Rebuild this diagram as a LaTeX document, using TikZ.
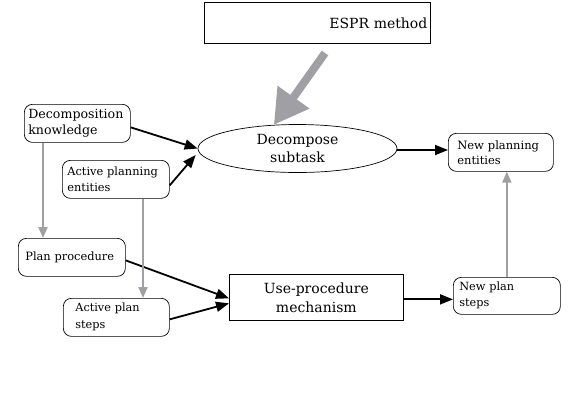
\documentclass[tikz,border=0pt]{standalone}
\usepackage{fontspec}
\setmainfont{DejaVu Serif}
\usetikzlibrary{arrows.meta,shapes.geometric}
\definecolor{arrgray}{RGB}{160,160,164}
\begin{document}
\begin{tikzpicture}[x=1pt,y=-1pt,
  rbox/.style={draw,rounded corners=8pt,line width=0.7pt,inner ysep=0pt,align=left,anchor=north west},
  sbox/.style={draw,line width=0.7pt,inner ysep=0pt,anchor=north west},
  blk/.style={line width=1.8pt,-{Triangle[length=13pt,width=10pt]}},
  gry/.style={draw=arrgray,line width=2pt,-{Triangle[length=11pt,width=9pt,fill=arrgray]}},
  big/.style={draw=arrgray,line width=8pt,-{Triangle[length=34pt,width=37pt,fill=arrgray]}}]
\useasboundingbox (0,0) rectangle (572,405);
\fill[white] (0,0) rectangle (572,405);

\node[sbox,minimum width=226pt,minimum height=41pt,text width=220pt,inner xsep=3pt,align=right,font=\fontsize{14}{18}\selectfont] (espr) at (204,2) {ESPR method};
\node[draw,ellipse,line width=0.7pt,minimum width=199pt,minimum height=48pt,inner sep=0pt,align=center,font=\fontsize{14}{18}\selectfont] (dec) at (297.5,148.5) {Decompose\\subtask};
\node[rbox,minimum width=106pt,minimum height=38pt,inner xsep=4pt,text width=98pt,font=\fontsize{12.6}{16}\selectfont] (dk) at (24,104) {Decomposition\\knowledge};
\node[rbox,minimum width=107pt,minimum height=38pt,inner xsep=5pt,text width=97pt,font=\fontsize{11.4}{16}\selectfont] (ape) at (62,160) {Active planning\\entities};
\node[rbox,minimum width=107pt,minimum height=38pt,inner xsep=7pt,text width=93pt,font=\fontsize{11.4}{16}\selectfont] (pp) at (18,238) {Plan procedure};
\node[rbox,minimum width=106pt,minimum height=38pt,inner xsep=12pt,text width=82pt,font=\fontsize{11.3}{17}\selectfont] (aps) at (63,298) {Active plan\\steps};
\node[sbox,minimum width=174pt,minimum height=46pt,inner xsep=0pt,text width=174pt,align=center,font=\fontsize{14}{19}\selectfont] (upm) at (229,274) {Use-procedure\\mechanism};
\node[rbox,minimum width=105pt,minimum height=38pt,inner xsep=9pt,text width=87pt,font=\fontsize{11.5}{15}\selectfont] (npe) at (448,133) {New planning\\entities};
\node[rbox,minimum width=107pt,minimum height=37pt,inner xsep=6pt,text width=95pt,font=\fontsize{11.3}{16}\selectfont] (nps) at (453,277) {New plan\\steps};

\coordinate (g0) at (325,53);
\draw[big] (g0) -- (dec.135);

\draw[blk] ([yshift=-4pt]dk.east) -- (dec.west);
\draw[blk] ([yshift=-6pt]ape.east) -- ([yshift=-6.5pt,xshift=-2pt]dec.west);
\draw[blk] ([yshift=-3pt]pp.east) -- ([yshift=-1pt]upm.west);
\draw[blk] ([yshift=-2pt]aps.east) -- ([yshift=-6pt]upm.west);
\draw[blk] ([yshift=-1.5pt]dec.east) -- ([yshift=-1.5pt]dec.east -| npe.west);
\draw[blk] ([yshift=-2pt]upm.east) -- ([yshift=-2pt]upm.east -| nps.west);

\draw[gry] ([xshift=19pt]dk.south west) -- ([xshift=19pt]dk.south west |- pp.north);
\draw[gry] ([xshift=81pt]ape.south west) -- ([xshift=81pt]ape.south west |- aps.north);
\draw[gry] (nps.north) -- (nps.north |- npe.south);
\end{tikzpicture}
\end{document}
